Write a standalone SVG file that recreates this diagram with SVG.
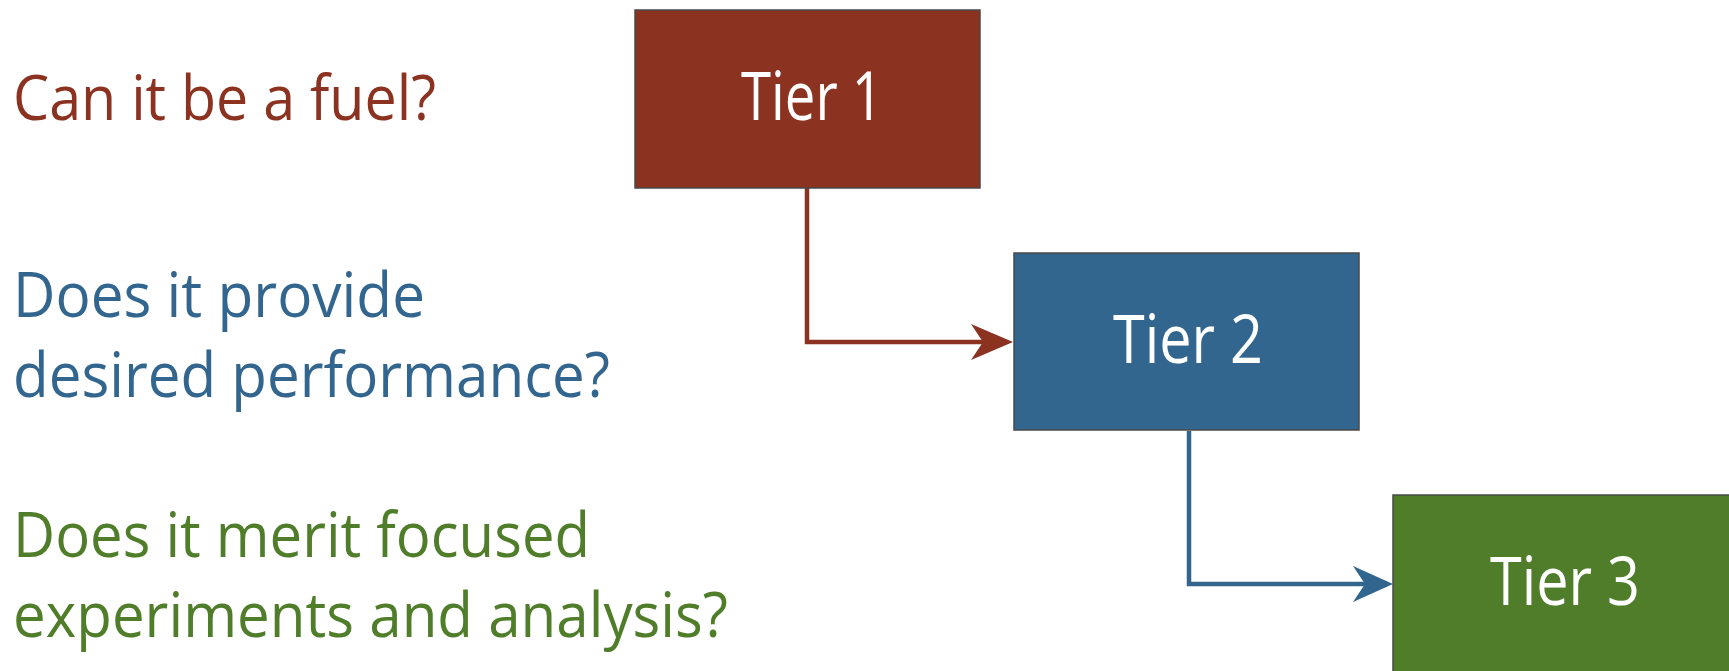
<svg xmlns="http://www.w3.org/2000/svg" width="1729" height="671" viewBox="0 0 1729 671">
  <style>
    .q { font-family: "Open Sans", "Noto Sans", "Liberation Sans", sans-serif; font-size: 63px; }
    .red { fill: #8B3220; }
    .blue { fill: #33668F; }
    .green { fill: #507D2A; }
    .box { stroke: #4a4a4a; stroke-width: 1.5; }
    .tier { font-family: "Open Sans", "Noto Sans", "Liberation Sans", sans-serif; font-size: 67px; fill: #ffffff; text-anchor: middle; }
    .conn { fill: none; stroke-width: 4.5; }
  </style>
  <defs>
    <marker id="arrRed" markerUnits="userSpaceOnUse" markerWidth="44" markerHeight="38" refX="28" refY="18" orient="auto">
      <path d="M0,0 L42,18 L0,36 L12,18 Z" fill="#8B3220"/>
    </marker>
    <marker id="arrBlue" markerUnits="userSpaceOnUse" markerWidth="44" markerHeight="38" refX="28" refY="18" orient="auto">
      <path d="M0,0 L40,18 L0,36 L12,18 Z" fill="#33668F"/>
    </marker>
  </defs>
  <rect width="1729" height="671" fill="#ffffff"/>

  <g id="questions">
    <text class="q red" x="13" y="120" textLength="423" lengthAdjust="spacingAndGlyphs">Can it be a fuel?</text>
    <text class="q blue" x="13" y="317" textLength="412" lengthAdjust="spacingAndGlyphs">Does it provide</text>
    <text class="q blue" x="13" y="397" textLength="597" lengthAdjust="spacingAndGlyphs">desired performance?</text>
    <text class="q green" x="13" y="557" textLength="577" lengthAdjust="spacingAndGlyphs">Does it merit focused</text>
    <text class="q green" x="13" y="637" textLength="715" lengthAdjust="spacingAndGlyphs">experiments and analysis?</text>
  </g>

  <g id="connectors">
    <path class="conn" stroke="#8B3220" d="M807,188 L807,342 L999,342" marker-end="url(#arrRed)"/>
    <path class="conn" stroke="#33668F" d="M1189,431 L1189,584 L1381,584" marker-end="url(#arrBlue)"/>
  </g>

  <g id="tier1">
    <rect class="box red" x="635" y="10" width="345" height="178"/>
    <text class="tier" x="812" y="120" textLength="142" lengthAdjust="spacingAndGlyphs">Tier 1</text>
  </g>
  <g id="tier2">
    <rect class="box blue" x="1014" y="253" width="345" height="177"/>
    <text class="tier" x="1188" y="363" textLength="150" lengthAdjust="spacingAndGlyphs">Tier 2</text>
  </g>
  <g id="tier3">
    <rect class="box green" x="1393" y="495" width="345" height="178"/>
    <text class="tier" x="1565" y="605" textLength="150" lengthAdjust="spacingAndGlyphs">Tier 3</text>
  </g>
</svg>
